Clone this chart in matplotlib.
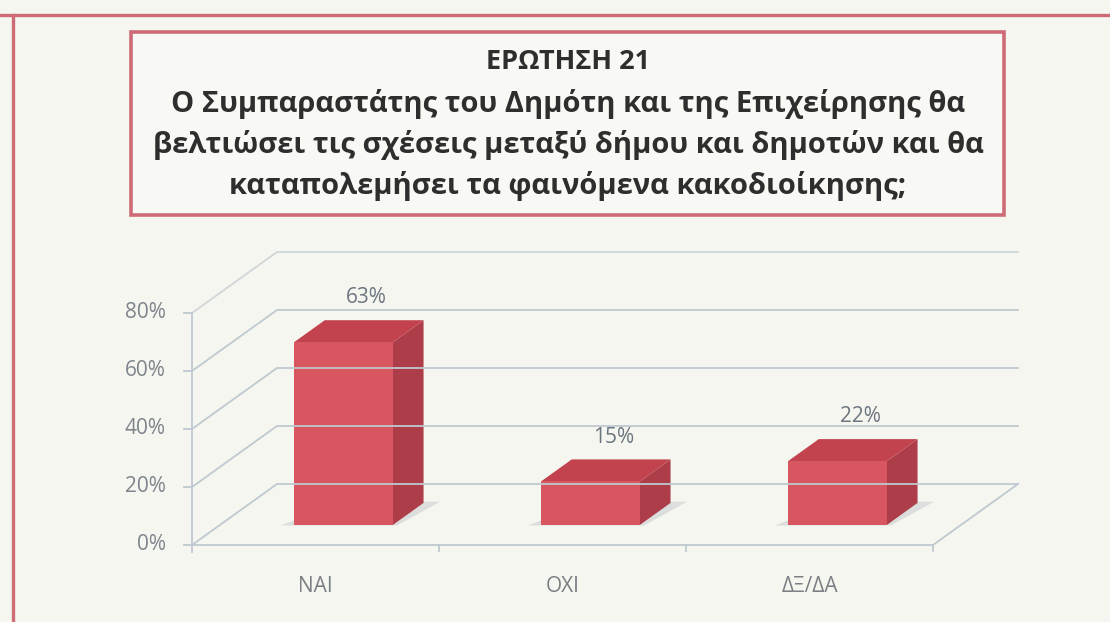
import matplotlib
matplotlib.use("Agg")
import matplotlib.pyplot as plt
from matplotlib.patches import Polygon, Rectangle
from matplotlib.lines import Line2D

# ---- data -------------------------------------------------------------
categories = ["ΝΑΙ", "ΟΧΙ", "ΔΞ/ΔΑ"]
values = [63, 15, 22]
value_labels = ["63%", "15%", "22%"]
yticks = [0, 20, 40, 60, 80]
ytick_labels = ["0%", "20%", "40%", "60%", "80%"]
title_lines = [
    "ΕΡΩΤΗΣΗ 21",
    "Ο Συμπαραστάτης του Δημότη και της Επιχείρησης θα",
    "βελτιώσει τις σχέσεις μεταξύ δήμου και δημοτών και θα",
    "καταπολεμήσει τα φαινόμενα κακοδιοίκησης;",
]

# ---- style ------------------------------------------------------------
W, H = 1110, 622
BG = "#f5f6ef"
FRAME = "#cf6b76"
GRID = "#bfc9d0"
TXT = "#7d858c"
FRONT, TOP, SIDE = "#d8565f", "#c2434e", "#ad3d48"
SHADOW = "#d9dcdc"

plt.rcParams["font.family"] = ["Open Sans", "DejaVu Sans"]

fig = plt.figure(figsize=(W / 100, H / 100), dpi=100, facecolor=BG)


def px(x, y):
    """pixel (from top-left) -> figure fraction"""
    return x / W, 1 - y / H


# outer page frame
fig.add_artist(Line2D([0, 1], [px(0, 15)[1]] * 2, color=FRAME, lw=2.4))
fig.add_artist(Line2D([px(13, 0)[0]] * 2, [0, px(0, 15)[1]], color=FRAME, lw=2.4))

# title box
x0, y0 = px(131, 215)
x1, y1 = px(1004, 32)
fig.add_artist(Rectangle((x0, y0), x1 - x0, y1 - y0, transform=fig.transFigure,
                         fill=True, facecolor="#f8f9f4", edgecolor=FRAME, lw=2.6))
for i, (line, ypx) in enumerate(zip(title_lines, [62, 104, 145, 186])):
    fig.text(px(568, 0)[0], px(0, ypx)[1], line, ha="center", va="center",
             fontsize=19.5 if i == 0 else 21, fontweight="bold", color="#2e2e2e")

# ---- chart axes: front floor edge 0..3 categories, 0..80 % -----------
L, R, B, T = 192, 933, 545, 313
ax = fig.add_axes([L / W, 1 - B / H, (R - L) / W, (B - T) / H])
ax.set_xlim(0, 3)
ax.set_ylim(0, 80)
ax.axis("off")
ax.patch.set_alpha(0)

ppu_x = (R - L) / 3          # px per category
ppu_y = (B - T) / 80         # px per percent
DX, DY = 85 / ppu_x, 61 / ppu_y   # floor depth in data units
F0, F1 = 0.33, 0.69          # bar depth span (fraction of floor depth)
BW = 0.40                    # bar width (category units)
n = len(categories)


def d(u, v, f):
    return (u + f * DX, v + f * DY)


kw = dict(clip_on=False)
# side wall + back wall gridlines
for t in yticks:
    c = GRID if t < 80 else "#d0d5d8"
    ax.plot([0, DX, n + DX], [t, t + DY, t + DY], color=c, lw=1.3, **kw)
    ax.plot([-8 / ppu_x, 0], [t, t], color=GRID, lw=1.3, **kw)
# vertical axis
ax.plot([0, 0], [-2.5, 80], color=GRID, lw=1.3, **kw)
# floor front + right edges
ax.plot([0, n, n + DX], [0, 0, DY], color=GRID, lw=1.3, **kw)
for k in range(1, n + 1):
    ax.plot([k, k], [0, -2.2], color=GRID, lw=1.3, **kw)

# bars
for i, (h, lab) in enumerate(zip(values, value_labels)):
    u0, u1 = i + 0.5 - BW / 2, i + 0.5 + BW / 2
    # shadow on floor
    sh = [d(u0 - 0.05, 0, F0 - 0.01), d(u1 + 0.02, 0, F0 - 0.01),
          d(u1 + 0.06, 0, F1 + 0.02), d(u0 + 0.06, 0, F1 + 0.02)]
    ax.add_patch(Polygon(sh, closed=True, facecolor=SHADOW, edgecolor="none",
                         alpha=0.9, **kw))
    side = [d(u1, 0, F0), d(u1, 0, F1), d(u1, h, F1), d(u1, h, F0)]
    top = [d(u0, h, F0), d(u1, h, F0), d(u1, h, F1), d(u0, h, F1)]
    front = [d(u0, 0, F0), d(u1, 0, F0), d(u1, h, F0), d(u0, h, F0)]
    ax.add_patch(Polygon(side, closed=True, facecolor=SIDE, edgecolor="none", **kw))
    ax.add_patch(Polygon(top, closed=True, facecolor=TOP, edgecolor="none", **kw))
    ax.add_patch(Polygon(front, closed=True, facecolor=FRONT, edgecolor="none", **kw))
    # value label
    lx, ly = d(i + 0.5 - 0.03, h, F1)
    ax.annotate(lab, (lx, ly), xytext=(0, 16), textcoords="offset points",
                ha="center", va="center", fontsize=15, color="#6c7680")
    # category label
    ax.annotate(categories[i], (i + 0.5, 0), xytext=(0, -30),
                textcoords="offset points", ha="center", va="center",
                fontsize=15, color="#7a7f84")

# y tick labels
for t, lab in zip(yticks, ytick_labels):
    ax.annotate(lab, (0, t), xytext=(-19, 0), textcoords="offset points",
                ha="right", va="center", fontsize=15, color=TXT)

fig.savefig("out.png", dpi=100, facecolor=BG)
